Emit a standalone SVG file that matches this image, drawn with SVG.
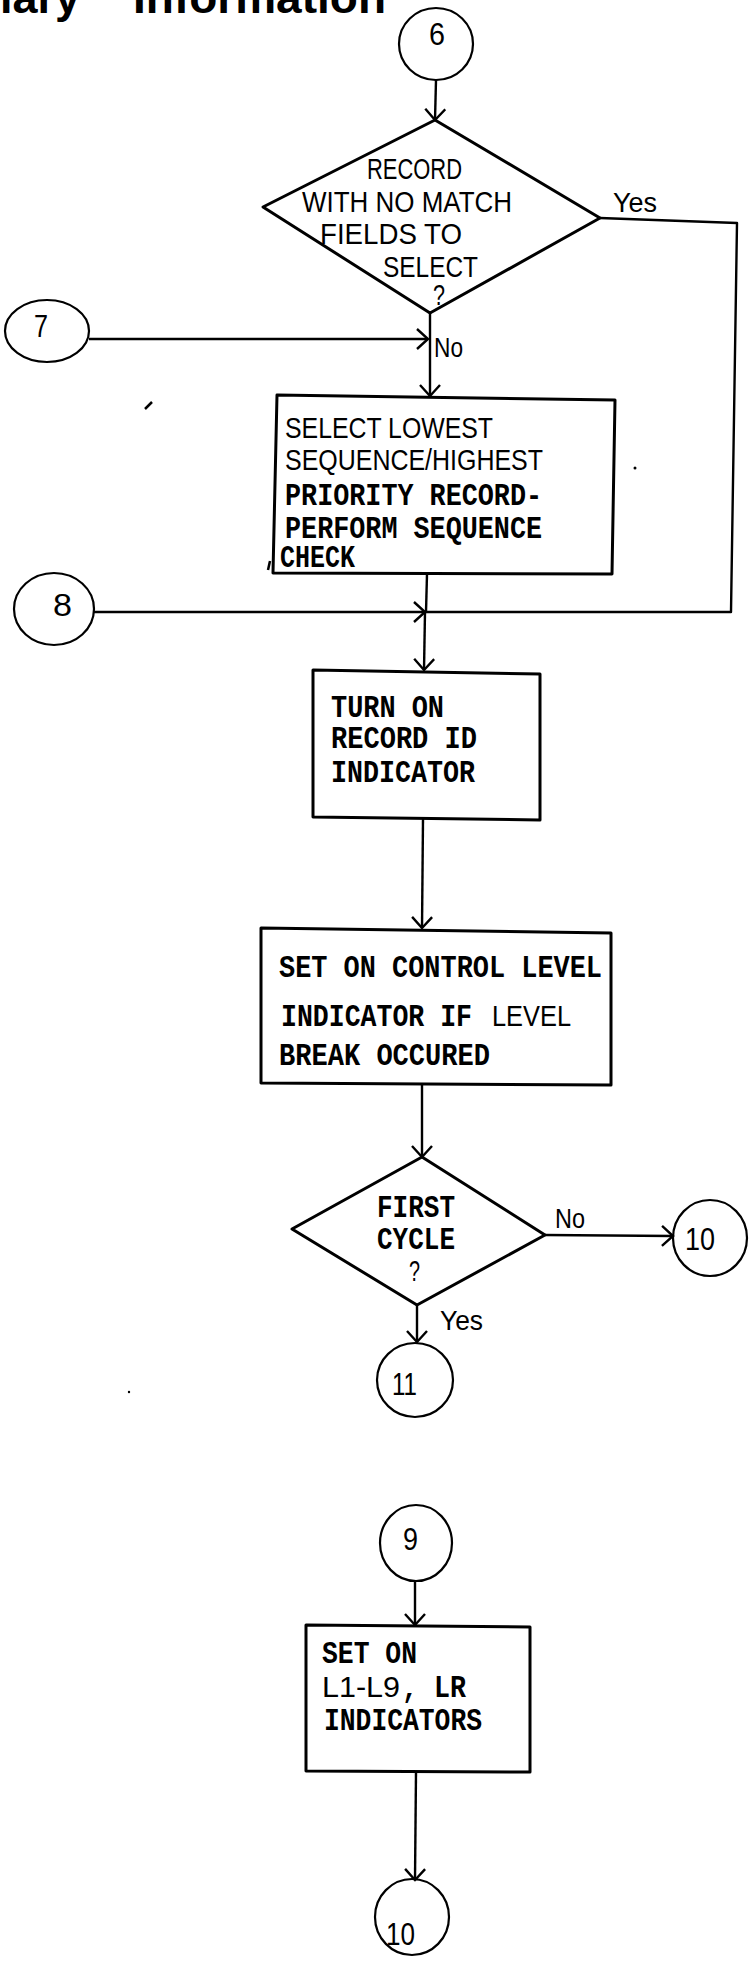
<svg xmlns="http://www.w3.org/2000/svg" width="752" height="1965" viewBox="0 0 752 1965">
<style>
.bg{fill:#ffffff}
.shape{fill:none;stroke:#000;stroke-width:3;stroke-linejoin:round}
.circ{fill:none;stroke:#000;stroke-width:2.2}
.line{fill:none;stroke:#000;stroke-width:2.4;stroke-linejoin:round}
.sans{font-family:"Liberation Sans",Arial,sans-serif;font-size:30px;fill:#000}
.mono{font-family:"Liberation Mono","Courier New",monospace;font-size:32px;font-weight:bold;fill:#000}
.num{font-family:"Liberation Sans",Arial,sans-serif;font-size:31px;fill:#000}
.lbl{font-family:"Liberation Sans",Arial,sans-serif;font-size:27px;fill:#000}
.title{font-family:"Liberation Sans",Arial,sans-serif;font-size:45px;font-weight:bold;fill:#000}
.mark{fill:none;stroke:#000;stroke-width:2.5}
</style>
<defs>
<marker id="arr" viewBox="0 0 14 22" markerWidth="14" markerHeight="22" refX="12" refY="11" orient="auto" markerUnits="userSpaceOnUse">
<path d="M1,1 L12,11 L1,21" fill="none" stroke="#000" stroke-width="2.4"/>
</marker>
</defs>
<rect class="bg" x="0" y="0" width="752" height="1965"/>

<text class="title" y="13"><tspan x="0">lary</tspan><tspan x="133" textLength="253" lengthAdjust="spacingAndGlyphs">Information</tspan></text>

<g id="connectors">
<path class="line" d="M436,80 L435,120" marker-end="url(#arr)"/>
<path class="line" d="M430,313 L430,396" marker-end="url(#arr)"/>
<path class="line" d="M89,339 L428,339" marker-end="url(#arr)"/>
<path class="line" d="M600,218 L737,223 L731,612 L426,612"/>
<path class="line" d="M427,574 L426,612"/>
<path class="line" d="M94,612 L425,612" marker-end="url(#arr)"/>
<path class="line" d="M425,612 L424,670" marker-end="url(#arr)"/>
<path class="line" d="M423,819 L422,928" marker-end="url(#arr)"/>
<path class="line" d="M422,1085 L422,1157" marker-end="url(#arr)"/>
<path class="line" d="M545,1235 L673,1236" marker-end="url(#arr)"/>
<path class="line" d="M417,1305 L417,1342" marker-end="url(#arr)"/>
<path class="line" d="M415,1582 L415,1625" marker-end="url(#arr)"/>
<path class="line" d="M416,1772 L415,1880" marker-end="url(#arr)"/>
<text class="lbl" x="613" y="212" textLength="44" lengthAdjust="spacingAndGlyphs">Yes</text>
<text class="lbl" x="434" y="357" textLength="29" lengthAdjust="spacingAndGlyphs">No</text>
<text class="lbl" x="555" y="1228" textLength="30" lengthAdjust="spacingAndGlyphs">No</text>
<text class="lbl" x="440" y="1330" textLength="43" lengthAdjust="spacingAndGlyphs">Yes</text>
</g>

<g id="c6">
<ellipse class="circ" cx="436" cy="44" rx="37" ry="36"/>
<text class="num" x="429" y="45" textLength="16" lengthAdjust="spacingAndGlyphs">6</text>
</g>

<g id="d1">
<polygon class="shape" points="435,120 600,218 430,313 263,207"/>
<text class="sans" x="367" y="179" textLength="95" lengthAdjust="spacingAndGlyphs">RECORD</text>
<text class="sans" x="302" y="212" textLength="210" lengthAdjust="spacingAndGlyphs">WITH NO MATCH</text>
<text class="sans" x="320" y="244" textLength="142" lengthAdjust="spacingAndGlyphs">FIELDS TO</text>
<text class="sans" x="383" y="277" textLength="95" lengthAdjust="spacingAndGlyphs">SELECT</text>
<text class="sans" x="433" y="305" font-size="26" textLength="12" lengthAdjust="spacingAndGlyphs">?</text>
</g>

<g id="c7">
<ellipse class="circ" cx="47" cy="331" rx="42" ry="31"/>
<text class="num" x="34" y="337" textLength="14" lengthAdjust="spacingAndGlyphs">7</text>
</g>

<g id="r1">
<polygon class="shape" points="277,395 615,400 612,574 273,573"/>
<text class="sans" x="285" y="438" textLength="208" lengthAdjust="spacingAndGlyphs">SELECT LOWEST</text>
<text class="sans" x="285" y="470" textLength="258" lengthAdjust="spacingAndGlyphs">SEQUENCE/HIGHEST</text>
<text class="mono" x="285" y="505" textLength="257" lengthAdjust="spacingAndGlyphs">PRIORITY RECORD-</text>
<text class="mono" x="285" y="538" textLength="257" lengthAdjust="spacingAndGlyphs">PERFORM SEQUENCE</text>
<text class="mono" x="280" y="567" textLength="75" lengthAdjust="spacingAndGlyphs">CHECK</text>
</g>

<g id="c8">
<ellipse class="circ" cx="54" cy="609" rx="40" ry="36"/>
<text class="num" x="53" y="616" textLength="19" lengthAdjust="spacingAndGlyphs">8</text>
</g>

<g id="r2">
<polygon class="shape" points="313,670 540,674 540,820 313,817"/>
<text class="mono" x="331" y="717" textLength="113" lengthAdjust="spacingAndGlyphs">TURN ON</text>
<text class="mono" x="331" y="748" textLength="146" lengthAdjust="spacingAndGlyphs">RECORD ID</text>
<text class="mono" x="331" y="782" textLength="144" lengthAdjust="spacingAndGlyphs">INDICATOR</text>
</g>

<g id="r3">
<polygon class="shape" points="261,928 611,933 611,1085 261,1083"/>
<text class="mono" x="279" y="977" textLength="323" lengthAdjust="spacingAndGlyphs">SET ON CONTROL LEVEL</text>
<text y="1026"><tspan class="mono" x="281" textLength="191" lengthAdjust="spacingAndGlyphs">INDICATOR IF</tspan><tspan class="sans" x="492" textLength="79" lengthAdjust="spacingAndGlyphs">LEVEL</tspan></text>
<text class="mono" x="279" y="1065" textLength="211" lengthAdjust="spacingAndGlyphs">BREAK OCCURED</text>
</g>

<g id="d2">
<polygon class="shape" points="422,1157 545,1235 417,1305 292,1229"/>
<text class="mono" x="377" y="1217" textLength="78" lengthAdjust="spacingAndGlyphs">FIRST</text>
<text class="mono" x="377" y="1249" textLength="78" lengthAdjust="spacingAndGlyphs">CYCLE</text>
<text class="sans" x="409" y="1281" font-size="27" textLength="11" lengthAdjust="spacingAndGlyphs">?</text>
</g>

<g id="c10a">
<ellipse class="circ" cx="710" cy="1238" rx="37" ry="38"/>
<text class="num" x="685" y="1250" textLength="30" lengthAdjust="spacingAndGlyphs">10</text>
</g>

<g id="c11">
<ellipse class="circ" cx="415" cy="1380" rx="38" ry="37"/>
<text class="num" x="392" y="1395" textLength="25" lengthAdjust="spacingAndGlyphs">11</text>
</g>

<g id="c9">
<ellipse class="circ" cx="416" cy="1543" rx="36" ry="38"/>
<text class="num" x="403" y="1550" textLength="15" lengthAdjust="spacingAndGlyphs">9</text>
</g>

<g id="r4">
<polygon class="shape" points="306,1625 530,1627 530,1772 306,1771"/>
<text class="mono" x="322" y="1663" textLength="95" lengthAdjust="spacingAndGlyphs">SET ON</text>
<text y="1697"><tspan class="sans" x="322" textLength="78" lengthAdjust="spacingAndGlyphs">L1-L9</tspan><tspan class="mono" x="402" textLength="64" lengthAdjust="spacingAndGlyphs">, LR</tspan></text>
<text class="mono" x="324" y="1730" textLength="158" lengthAdjust="spacingAndGlyphs">INDICATORS</text>
</g>

<g id="c10b">
<ellipse class="circ" cx="412" cy="1917" rx="37" ry="38"/>
<text class="num" x="386" y="1945" textLength="29" lengthAdjust="spacingAndGlyphs">10</text>
</g>

<path class="mark" d="M145,409 L152,402"/>
<path class="mark" d="M268,570 L270,561"/>
<circle cx="635" cy="468" r="1.5" fill="#000"/>
<circle cx="129" cy="1392" r="1.2" fill="#000"/>
</svg>
